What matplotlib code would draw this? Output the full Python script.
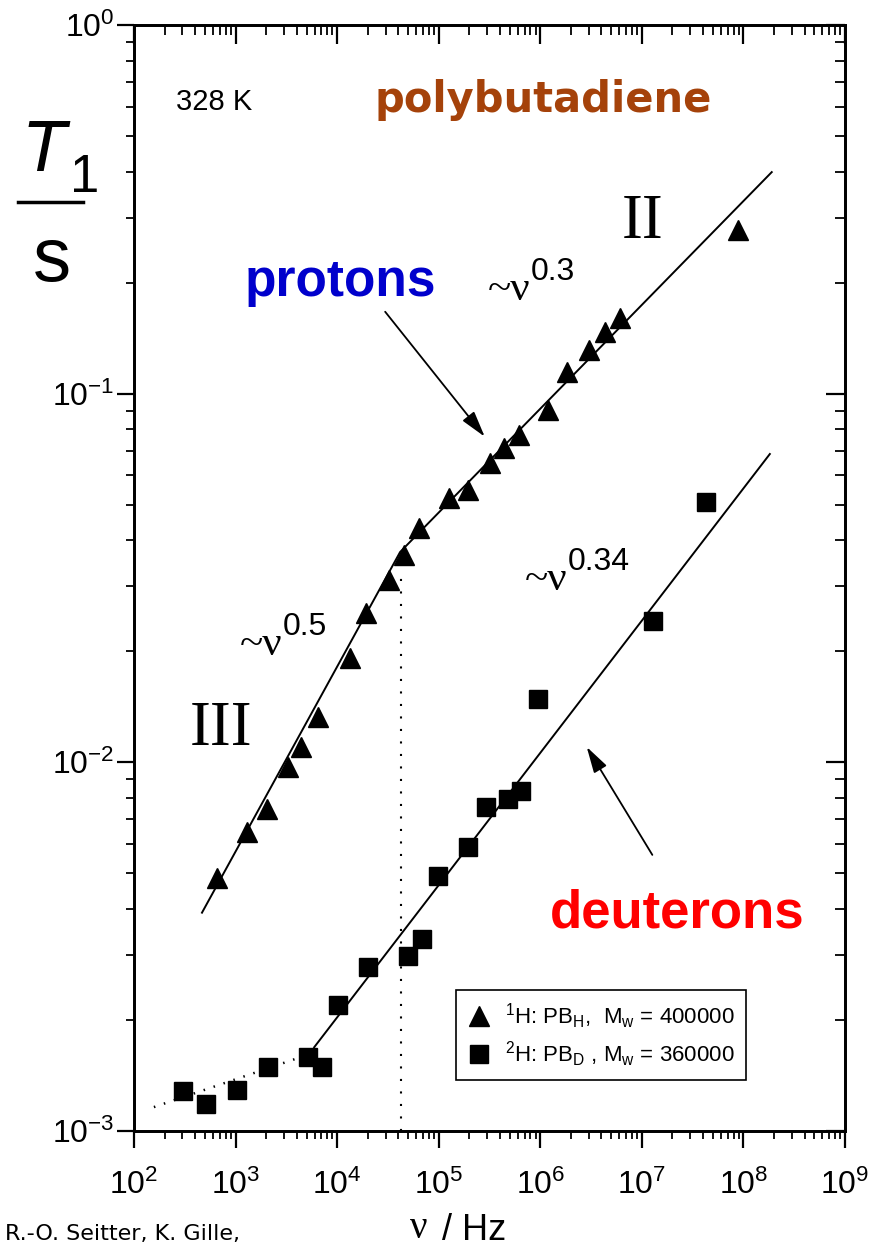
import matplotlib
matplotlib.use('Agg')
import matplotlib.pyplot as plt
from matplotlib.lines import Line2D
import numpy as np

narrow = ['Liberation Sans Narrow', 'Liberation Sans', 'DejaVu Sans']
serif = ['Liberation Serif', 'DejaVu Serif']
plt.rcParams['font.family'] = narrow
plt.rcParams['mathtext.fontset'] = 'custom'
plt.rcParams['mathtext.rm'] = 'Liberation Sans'
plt.rcParams['mathtext.it'] = 'Liberation Sans:italic'
plt.rcParams['mathtext.bf'] = 'Liberation Sans:bold'

# 1H relaxation, PB_H (Mw = 400000)
nu_h = [656, 1294, 2023, 3281, 4406, 6477, 13370, 19190, 32340, 45410, 63830,
        125900, 193600, 318900, 438200, 615300, 1.19e6, 1.83e6, 3.01e6, 4.32e6,
        6.07e6, 8.81e7]
t1_h = [0.00486, 0.00648, 0.00748, 0.00972, 0.01102, 0.01327, 0.01919, 0.02541,
        0.03126, 0.03653, 0.04325, 0.05217, 0.0548, 0.06486, 0.07123, 0.07726,
        0.0904, 0.1146, 0.1314, 0.147, 0.1603, 0.278]

# 2H relaxation, PB_D (Mw = 360000)
nu_d = [305, 516, 1040, 2066, 5200, 7080, 10230, 20150, 49530, 69180, 98650,
        196300, 290000, 477000, 653000, 940000, 1.28e7, 4.31e7]
t1_d = [0.001285, 0.001187, 0.00129, 0.00149, 0.00159, 0.00149, 0.00219, 0.00279,
        0.00299, 0.00331, 0.00491, 0.00591, 0.00755, 0.00796, 0.00838, 0.01486,
        0.02418, 0.0509]

# power-law guides: regime III (~nu^0.5) -> regime II (~nu^0.3) for protons
fit_h_nu = [467, 41700, 1.9e8]
fit_h_t1 = [0.00391, 0.0372, 0.399]
fit_d_nu = [5940, 1.82e8]
fit_d_t1 = [0.001687, 0.0686]
low_d_nu = [157, 4800]
low_d_t1 = [0.001161, 0.0016]
nu_cross = 42400
t1_cross = 0.0327

W, H = 870, 1252
fig = plt.figure(figsize=(W / 100, H / 100), dpi=100)
ax = fig.add_axes([134 / W, 1 - 1131 / H, (845 - 134) / W, (1131 - 25) / H])


def px(x, y):
    return x / W, 1 - y / H


ax.set_xscale('log')
ax.set_yscale('log')
ax.set_xlim(1e2, 1e9)
ax.set_ylim(1e-3, 1e0)

ax.plot(fit_h_nu, fit_h_t1, color='k', lw=1.4, zorder=2)
ax.plot(fit_d_nu, fit_d_t1, color='k', lw=1.4, zorder=2)
ax.plot(low_d_nu, low_d_t1, color='k', lw=1.8, ls=(0, (0.6, 3.6)), zorder=2)
ax.plot([nu_cross, nu_cross], [1e-3, t1_cross], color='k', lw=1.5,
        ls=(0, (1, 5)), zorder=2)

ax.plot(nu_h, t1_h, ls='none', marker='^', ms=14, color='k', mec='k',
        label=r'$^{1}$H: PB$_{\mathrm{H}}$,  M$_{\mathrm{w}}$ = 400000', zorder=3)
ax.plot(nu_d, t1_d, ls='none', marker='s', ms=12.5, color='k', mec='k',
        label=r'$^{2}$H: PB$_{\mathrm{D}}$ , M$_{\mathrm{w}}$ = 360000', zorder=3)

leg = ax.legend(loc='lower left', bbox_to_anchor=(0.453, 0.046), borderaxespad=0,
                fancybox=False, framealpha=1, edgecolor='k', fontsize=16,
                handlelength=1.1, handletextpad=0.6, borderpad=0.5,
                labelspacing=0.4)
leg.get_frame().set_linewidth(1.2)

# arrows pointing at the two curves
arrow = dict(arrowstyle='-|>,head_length=1.6,head_width=0.45', color='k', lw=1.3,
             shrinkA=0, shrinkB=0)
ax.annotate('', xy=(283800, 0.07644), xytext=(29700, 0.1668), arrowprops=arrow)
ax.annotate('', xy=(2.864e6, 0.01101), xytext=(1.268e7, 0.00561), arrowprops=arrow)

# axes styling: outward ticks bottom/left, inward ticks top/right
for s in ax.spines.values():
    s.set_linewidth(1.8)
ax.tick_params(which='major', direction='out', length=12, width=1.6,
               labelsize=23, top=False, right=False)
ax.tick_params(which='minor', direction='out', length=6, width=1.3,
               top=False, right=False)
ax.tick_params(axis='x', which='major', pad=16)
ax.tick_params(axis='y', which='major', pad=2)

ax_top = ax.twiny()
ax_top.set_xscale('log')
ax_top.set_xlim(ax.get_xlim())
ax_top.tick_params(which='major', direction='in', length=14, width=1.6, labeltop=False)
ax_top.tick_params(which='minor', direction='in', length=7, width=1.3)
ax_right = ax.twinx()
ax_right.set_yscale('log')
ax_right.set_ylim(ax.get_ylim())
ax_right.tick_params(which='major', direction='in', length=14, width=1.6, labelright=False)
ax_right.tick_params(which='minor', direction='in', length=7, width=1.3)
for a in (ax_top, ax_right):
    for s in a.spines.values():
        s.set_linewidth(1.8)

# annotations
fig.text(*px(176, 110), '328 K', fontsize=21, ha='left', va='baseline')
fig.text(*px(375, 112), 'polybutadiene', fontsize=30, fontweight='bold',
         color='#A5420A', family='DejaVu Sans', ha='left', va='baseline')
fig.text(*px(245, 296), 'protons', fontsize=37, fontweight='bold', color='#0000CC',
         family=['Liberation Sans', 'DejaVu Sans'], ha='left', va='baseline')
fig.text(*px(550, 927), 'deuterons', fontsize=38, fontweight='bold', color='#FF0000',
         family=['Liberation Sans', 'DejaVu Sans'], ha='left', va='baseline')
fig.text(*px(622, 238), 'II', fontsize=45, family=serif, ha='left', va='baseline')
fig.text(*px(190, 745), 'III', fontsize=45, family=serif, ha='left', va='baseline')


def power_label(x, y, expo):
    fig.text(*px(x, y), '~\u03bd', fontsize=31, family=serif, ha='left', va='baseline')
    fig.text(*px(x + 43, y - 20), expo, fontsize=23, ha='left', va='baseline')


power_label(488, 300, '0.3')
power_label(240, 655, '0.5')
power_label(525, 590, '0.34')

# T1 / s label
fig.text(*px(22, 171), 'T', fontsize=52, style='italic',
         family=['Liberation Sans', 'DejaVu Sans'], ha='left', va='baseline')
fig.text(*px(70, 192), '1', fontsize=38, family=['Liberation Sans', 'DejaVu Sans'],
         ha='left', va='baseline')
fig.add_artist(Line2D([18 / W, 83 / W], [1 - 202 / H, 1 - 202 / H], color='k', lw=2.5,
                      transform=fig.transFigure))
fig.text(*px(33, 281), 's', fontsize=55, family=['Liberation Sans', 'DejaVu Sans'],
         ha='left', va='baseline')

# axis title and citation
fig.text(*px(410, 1238), '\u03bd', fontsize=28, family=serif, ha='left', va='baseline')
fig.text(*px(432, 1240), ' / Hz', fontsize=26, ha='left', va='baseline')
fig.text(*px(5, 1240), 'R.-O. Seitter, K. Gille,', fontsize=16, family='DejaVu Sans',
         ha='left', va='baseline')

fig.savefig('out.png', dpi=100)
